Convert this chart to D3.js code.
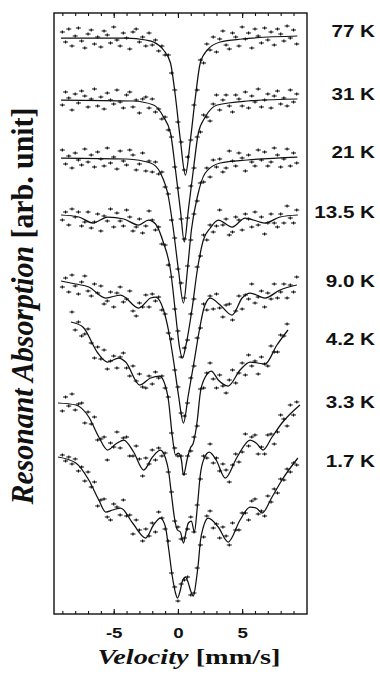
<!DOCTYPE html>
<html>
<head>
<meta charset="utf-8">
<script src="https://cdn.jsdelivr.net/npm/d3@7"></script>
<style>
  body { margin: 0; background: #fff; }
  svg { display: block; }
</style>
</head>
<body>
<div id="graf"></div>
<script>
// I. Datos

// canales de velocidad (mm/s)
const velocidad = [-9, -8.75, -8.5, -8.25, -8, -7.75, -7.5, -7.25, -7, -6.75, -6.5, -6.25, -6, -5.75, -5.5, -5.25,
  -5, -4.75, -4.5, -4.25, -4, -3.75, -3.5, -3.25, -3, -2.75, -2.5, -2.25, -2, -1.75, -1.5, -1.25, -1, -0.75,
  -0.5, -0.25, 0, 0.25, 0.5, 0.75, 1, 1.25, 1.5, 1.75, 2, 2.25, 2.5, 2.75, 3, 3.25, 3.5, 3.75, 4, 4.25, 4.5,
  4.75, 5, 5.25, 5.5, 5.75, 6, 6.25, 6.5, 6.75, 7, 7.25, 7.5, 7.75, 8, 8.25, 8.5, 8.75, 9, 9.25]

const temperaturas = ['77 K', '31 K', '21 K', '13.5 K', '9.0 K', '4.2 K', '3.3 K', '1.7 K']
const nivelEtiqueta = [57.7, 51.4, 45.6, 39.6, 32.7, 26.9, 20.6, 14.7]

const ticksMenores = [-9, -8, -7, -6, -5, -4, -3, -2, -1, 0, 1, 2, 3, 4, 5, 6, 7, 8, 9]
const ticksMayores = [-5, 0, 5]

// puntos medidos (absorcion, unidades arbitrarias)
const pts77 = [58.2, 57.2, 58.5, 56.8, 57.8, 58.6, 57.3, 56.6, 58.0, 58.4,
  57.0, 57.7, 56.7, 58.3, 57.9, 57.1, 58.7, 57.4, 56.8, 58.1,
  57.6, 56.5, 58.2, 58.5, 57.2, 57.7, 56.8, 58.1, 56.9, 57.4,
  56.3, 56.8, 55.9, 55.9, 54.1, 52.4, 49.2, 47.2, 44.4, 45.7,
  47.4, 50.9, 52.4, 55.4, 55.1, 57.0, 56.4, 57.7, 56.2, 57.5,
  58.3, 56.9, 56.5, 58.1, 57.7, 56.8, 58.7, 57.5, 58.1, 56.6,
  58.5, 57.8, 57.1, 58.6, 57.4, 58.2, 56.9, 58.5, 58.0, 57.3,
  58.8, 57.6, 58.4, 57.0]
const pts31 = [50.9, 52.2, 51.6, 50.4, 52.0, 51.1, 52.3, 51.8, 50.7, 51.5,
  52.5, 50.8, 51.7, 50.5, 52.1, 51.4, 51.0, 52.4, 51.2, 50.6,
  51.9, 52.2, 50.7, 51.4, 50.1, 51.5, 51.7, 50.6, 51.5, 50.2,
  50.5, 49.5, 49.7, 48.4, 47.7, 44.7, 42.6, 39.5, 37.5, 39.6,
  42.8, 44.6, 47.7, 48.2, 49.9, 49.7, 49.3, 51.0, 51.9, 50.4,
  51.4, 51.9, 50.8, 50.2, 51.9, 51.5, 50.8, 52.2, 50.6, 51.8,
  51.2, 52.5, 50.7, 51.4, 52.0, 50.6, 51.8, 52.3, 51.0, 51.6,
  50.8, 52.4, 51.2, 52.0]
const pts21 = [46.4, 45.0, 45.8, 44.6, 46.1, 45.4, 44.9, 46.5, 45.2, 45.9,
  44.7, 46.2, 45.5, 44.8, 46.6, 45.1, 45.7, 44.5, 46.3, 45.3,
  44.9, 46.4, 45.9, 44.4, 45.0, 46.1, 44.3, 45.3, 44.2, 45.2,
  44.0, 44.2, 42.7, 42.0, 39.4, 37.6, 34.5, 33.1, 31.6, 34.8,
  37.4, 40.0, 41.3, 43.1, 43.2, 44.6, 43.7, 45.4, 44.7, 45.5,
  44.2, 44.6, 46.3, 45.3, 44.8, 46.1, 45.6, 44.3, 45.9, 45.2,
  44.8, 46.4, 45.4, 46.2, 44.8, 45.2, 46.6, 45.9, 44.7, 45.5,
  46.5, 44.8, 46.1, 45.1]
const pts135 = [39.4, 40.2, 38.9, 40.5, 39.7, 40.2, 38.8, 39.2, 40.2, 38.6,
  39.2, 40.0, 38.3, 39.8, 39.3, 40.5, 38.7, 40.1, 39.3, 38.8,
  40.4, 39.7, 38.3, 38.7, 39.5, 38.1, 38.8, 40.3, 39.4, 38.4,
  38.7, 37.0, 36.9, 34.9, 33.7, 30.5, 28.3, 25.7, 26.6, 27.4,
  30.0, 31.5, 34.7, 35.8, 37.9, 37.4, 38.9, 38.2, 38.8, 40.4,
  38.9, 39.5, 37.9, 38.2, 39.7, 39.4, 38.4, 40.0, 39.5, 38.7,
  40.2, 38.9, 39.7, 38.0, 39.1, 40.0, 39.1, 38.7, 40.0, 39.1,
  40.8, 39.6, 39.1, 40.4]
const pts90 = [32.7, 33.6, 32.2, 33.9, 32.8, 32.0, 33.2, 33.8, 32.3, 31.8,
  33.0, 32.1, 32.8, 31.0, 31.3, 32.2, 30.7, 32.1, 32.7, 31.2,
  31.5, 32.3, 30.3, 29.8, 31.1, 30.7, 31.9, 30.7, 32.0, 31.3,
  31.7, 30.4, 30.0, 28.1, 27.5, 24.4, 22.7, 20.1, 19.8, 21.1,
  23.6, 24.8, 27.6, 28.6, 31.0, 30.4, 31.8, 30.5, 32.0, 30.6,
  29.7, 30.9, 31.0, 29.4, 30.3, 31.8, 30.5, 31.9, 31.5, 33.0,
  31.1, 31.7, 32.3, 30.7, 32.1, 31.5, 33.0, 31.6, 32.2, 33.0,
  31.6, 32.9, 32.2, 33.7]
const pts42 = [null, null, null, 30.2, 28.4, 29.2, 27.8, 28.0, 28.5, 27.1,
  25.6, 26.7, 25.5, 26.4, 24.5, 25.3, 25.8, 24.6, 25.7, 26.1,
  24.6, 23.8, 24.8, 23.3, 24.0, 22.7, 22.6, 23.8, 23.0, 24.2,
  23.6, 23.8, 22.6, 21.7, 18.1, 16.6, 15.8, 15.8, 14.0, 15.8,
  16.3, 17.7, 18.8, 22.5, 22.6, 24.1, 25.1, 23.5, 22.6, 23.9,
  22.8, 22.1, 23.4, 24.4, 23.1, 24.1, 25.1, 23.9, 25.9, 24.8,
  25.3, 24.0, 25.7, 25.0, 24.8, 26.8, 26.2, 26.2, 27.9, 27.8,
  29.0, null, null, null]
const pts33 = [20.3, 21.7, 20.8, 22.0, 20.4, 21.0, 21.1, 19.1, 20.2, 19.0,
  19.7, 17.4, 17.5, 17.7, 15.4, 17.1, 16.7, 18.2, 16.6, 17.6,
  17.7, 15.8, 15.8, 16.8, 15.5, 13.8, 15.6, 15.0, 16.4, 15.4,
  16.6, 15.8, 16.1, 14.2, 12.2, 9.3, 8.7, 7.5, 7.6, 8.5,
  9.7, 8.2, 10.9, 13.5, 15.8, 15.6, 17.0, 15.1, 15.6, 14.3,
  15.0, 14.4, 13.2, 14.9, 16.0, 15.2, 16.2, 18.0, 16.8, 17.7,
  17.9, 16.0, 16.7, 16.0, 17.9, 18.0, 17.0, 18.2, 19.9, 19.5,
  18.8, 20.9, 19.9, 21.2]
const pts17 = [15.9, 15.3, 15.7, 15.0, 15.5, 14.3, 14.7, 13.3, 14.2, 12.7,
  13.2, 10.8, 11.4, 11.5, 9.7, 9.4, 11.0, 10.7, 9.9, 11.4,
  9.8, 9.9, 8.0, 9.4, 8.4, 7.3, 8.5, 7.8, 9.1, 8.2,
  10.2, 9.6, 8.5, 7.3, 4.1, 2.7, 1.3, 3.0, 3.4, 3.7,
  1.9, 2.1, 4.6, 6.9, 7.7, 9.8, 10.3, 8.6, 9.0, 7.6,
  8.7, 7.8, 6.9, 9.1, 8.4, 8.4, 10.1, 10.1, 9.4, 11.3,
  11.5, 10.0, 10.3, 9.8, 11.8, 11.2, 12.5, 12.1, 13.5, 13.4,
  14.5, 14.2, 15.1, 14.9]

// curvas de ajuste [velocidad, absorcion]
const fit77 = [[-9.1, 57.6], [-4, 57.6], [-2.5, 57.4], [-1.9, 57.2], [-1.12, 56.4], [-0.58, 55.1], [-0.19, 51.7],
  [0.19, 47.4], [0.58, 43.9], [0.97, 47.4], [1.36, 51.7], [1.74, 55.1], [2.29, 56.4], [3.29, 57.2], [5, 57.5], [9.3, 57.8]]
const fit31 = [[-9.1, 51.4], [-3.5, 51.3], [-1.9, 50.9], [-1.12, 49.7], [-0.58, 48.1], [-0.19, 44.4], [0.19, 40.4],
  [0.5, 37.2], [0.81, 40.4], [1.2, 44.4], [1.59, 48.1], [2.13, 49.7], [3.06, 50.9], [5.4, 51.3], [9.3, 51.5]]
const fit21 = [[-9.1, 45.6], [-4, 45.5], [-2.13, 45.1], [-1.36, 44.1], [-0.74, 41.7], [-0.35, 38.4], [0.04, 34.4],
  [0.43, 31.1], [0.74, 34.4], [1.05, 38.4], [1.51, 41.7], [2.13, 44.1], [3.29, 45.1], [5.4, 45.4], [9.3, 45.7]]
const fit135 = [[-9.1, 39.9], [-7.71, 39.7], [-6.63, 39.1], [-5.47, 39.7], [-4.22, 39.5], [-3.06, 38.9], [-2.29, 39.4],
  [-1.74, 39.0], [-1.12, 37.1], [-0.58, 34.4], [-0.19, 30.1], [0.12, 26.7], [0.35, 25.6], [0.66, 27.1], [1.12, 30.7],
  [1.51, 34.4], [1.98, 37.4], [2.52, 38.6], [3.14, 39.4], [4.22, 38.7], [5.23, 39.6], [6.78, 39.1], [7.95, 39.7], [9.34, 39.9]]
const fit90 = [[-9.1, 33.3], [-7.95, 33.0], [-6.94, 32.7], [-5.62, 31.6], [-4.46, 31.9], [-3.06, 30.6], [-2.13, 31.6],
  [-1.74, 31.7], [-1.12, 30.4], [-0.74, 28.4], [-0.35, 25.4], [0.04, 21.9], [0.43, 19.1], [0.81, 21.9], [1.28, 25.4],
  [1.67, 28.4], [2.05, 30.7], [2.52, 31.6], [3.29, 30.9], [4.22, 29.9], [5.0, 31.6], [5.62, 32.1], [6.78, 31.6],
  [7.95, 32.4], [9.26, 32.9]]
const fit42 = [[-8.33, 29.2], [-7.4, 28.7], [-6.24, 26.1], [-5.47, 25.2], [-4.61, 25.6], [-4.07, 25.2], [-2.98, 22.9],
  [-2.13, 23.6], [-1.43, 23.8], [-0.97, 22.8], [-0.74, 21.4], [-0.43, 17.7], [-0.19, 15.9], [0.04, 16.1], [0.27, 15.4],
  [0.43, 13.9], [0.74, 15.6], [0.97, 16.6], [1.2, 17.1], [1.51, 19.4], [1.74, 22.1], [2.13, 23.7], [2.6, 24.3],
  [3.14, 23.4], [3.91, 22.8], [4.84, 24.4], [5.62, 25.2], [6.78, 25.0], [7.71, 26.9], [8.57, 28.4]]
const fit33 = [[-9.34, 21.1], [-7.95, 20.9], [-6.94, 19.7], [-6.16, 17.7], [-5.47, 16.4], [-4.84, 17.0], [-4.22, 17.4],
  [-3.45, 16.2], [-2.67, 14.4], [-1.98, 15.7], [-1.36, 16.4], [-0.97, 15.6], [-0.74, 14.4], [-0.5, 11.9], [-0.27, 9.6],
  [-0.04, 8.4], [0.19, 8.2], [0.43, 7.1], [0.66, 8.4], [0.81, 9.1], [1.05, 9.3], [1.28, 8.2], [1.51, 10.7], [1.74, 13.9],
  [2.05, 15.6], [2.44, 16.2], [2.98, 15.4], [3.68, 13.6], [4.61, 15.7], [5.62, 17.4], [6.09, 17.1], [6.63, 16.4],
  [7.33, 17.7], [8.1, 19.1], [9.5, 20.9]]
const fit17 = [[-9.34, 15.7], [-7.95, 15.1], [-6.94, 13.4], [-6.16, 11.4], [-5.62, 10.2], [-5.08, 10.4], [-4.46, 10.6],
  [-3.53, 9.1], [-2.52, 7.6], [-1.9, 8.9], [-1.36, 9.6], [-0.97, 8.7], [-0.74, 6.7], [-0.43, 3.7], [-0.19, 2.1],
  [-0.04, 1.6], [0.19, 2.4], [0.35, 3.3], [0.58, 3.7], [0.81, 3.1], [0.97, 2.4], [1.2, 1.8], [1.43, 3.4], [1.59, 5.1],
  [1.74, 7.2], [1.98, 8.7], [2.36, 9.6], [3.14, 8.7], [3.91, 7.2], [4.84, 9.4], [5.62, 10.7], [6.09, 10.6], [6.55, 10.1],
  [7.33, 11.7], [8.1, 13.4], [9.34, 15.6]]

const puntos = [pts77, pts31, pts21, pts135, pts90, pts42, pts33, pts17]
const ajustes = [fit77, fit31, fit21, fit135, fit90, fit42, fit33, fit17]

// II. Configuracion
ancho_total = 380
alto_total = 675
margins = { top: 13, left: 54, right: 73, bottom: 61 }
ancho = ancho_total - margins.left - margins.right
alto = alto_total - margins.top - margins.bottom

sans = "'Liberation Sans', Arial, Helvetica, sans-serif"
serif = "'Liberation Serif', 'Times New Roman', Times, serif"
estiramiento = 1.25   // el original esta algo ensanchado

svg = d3.select('#graf').append('svg')
        .attr('width', ancho_total)
        .attr('height', alto_total)

g = svg.append('g')
        .attr('transform', `translate(${margins.left}, ${margins.top})`)

x = d3.scaleLinear().domain([-9.65, 10.05]).range([0, ancho])
y = d3.scaleLinear().domain([0, 60.1]).range([alto, 0])

// III. Ejes
ejeAbajo = g.append('g')
        .attr('transform', `translate(0, ${alto})`)
        .call(d3.axisBottom(x).tickValues(ticksMenores).tickSize(-3).tickFormat(''))
ejeAbajo2 = g.append('g')
        .attr('transform', `translate(0, ${alto})`)
        .call(d3.axisBottom(x).tickValues(ticksMayores).tickSize(-5).tickPadding(13).tickFormat(d3.format('d')))
ejeArriba = g.append('g')
        .call(d3.axisTop(x).tickValues(ticksMenores).tickSize(-3).tickFormat(''))
ejeArriba2 = g.append('g')
        .call(d3.axisTop(x).tickValues(ticksMayores).tickSize(-5).tickFormat(''))

g.selectAll('.domain').remove()
g.selectAll('.tick line').attr('stroke', '#111').attr('stroke-width', 1.1)

ejeAbajo2.selectAll('text')
        .attr('fill', '#111')
        .style('font-family', sans)
        .style('font-weight', 'bold')
        .style('font-size', '15px')
        .attr('transform', `scale(${estiramiento},1)`)
        .text(d => d < 0 ? '-' + Math.abs(d) : d)

// marco
g.append('rect')
        .attr('x', 0).attr('y', 0)
        .attr('width', ancho).attr('height', alto)
        .attr('fill', 'none')
        .attr('stroke', '#111')
        .attr('stroke-width', 1.4)

// IV. Espectros
linea = d3.line()
        .x(d => x(d[0]))
        .y(d => y(d[1]))
        .curve(d3.curveMonotoneX)

ajustes.forEach(fit => {
        g.append('path')
                .datum(fit)
                .attr('fill', 'none')
                .attr('stroke', '#111')
                .attr('stroke-width', 1.25)
                .attr('d', linea)
})

puntos.forEach(serie => {
        datos = velocidad.map((v, i) => [v, serie[i]]).filter(d => d[1] != null)
        g.append('g').selectAll('path')
                .data(datos)
                .join('path')
                .attr('d', d => {
                        px = x(d[0]); py = y(d[1])
                        return `M${px - 2.5},${py}h5M${px},${py - 1.4}v2.8`
                })
                .attr('stroke', '#111')
                .attr('stroke-width', 1.2)
})

// V. Etiquetas de temperatura
temperaturas.forEach((t, i) => {
        svg.append('text')
                .attr('transform', `translate(375, ${margins.top + y(nivelEtiqueta[i])}) scale(${estiramiento},1)`)
                .attr('text-anchor', 'end')
                .style('font-family', sans)
                .style('font-weight', 'bold')
                .style('font-size', '16.5px')
                .attr('fill', '#111')
                .text(t)
})

// VI. Titulos de ejes
tx = svg.append('text')
        .attr('x', 189).attr('y', 664)
        .attr('text-anchor', 'middle')
        .attr('textLength', 183)
        .attr('lengthAdjust', 'spacingAndGlyphs')
        .style('font-family', serif)
        .style('font-weight', 'bold')
        .style('font-size', '21px')
        .attr('fill', '#111')
tx.append('tspan').style('font-style', 'italic').text('Velocity')
tx.append('tspan').text(' [mm/s]')

ty = svg.append('text')
        .attr('transform', `translate(33, 306) rotate(-90) scale(1, ${estiramiento})`)
        .attr('text-anchor', 'middle')
        .attr('textLength', 397)
        .attr('lengthAdjust', 'spacingAndGlyphs')
        .style('font-family', serif)
        .style('font-weight', 'bold')
        .style('font-size', '25px')
        .attr('fill', '#111')
ty.append('tspan').style('font-style', 'italic').text('Resonant Absorption')
ty.append('tspan').text(' [arb. unit]')
</script>
</body>
</html>
